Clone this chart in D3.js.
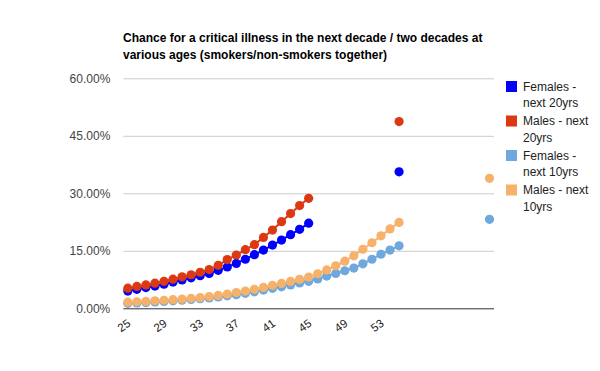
<!DOCTYPE html>
<html>
<head>
<meta charset="utf-8">
<script src="https://cdn.jsdelivr.net/npm/d3@7"></script>
<style>
  html, body { margin: 0; padding: 0; background: #fff; }
  svg { display: block; font-family: "Liberation Sans", Arial, sans-serif; }
</style>
</head>
<body>
<svg id="chart" width="600" height="371"></svg>
<script>
// ---- Data ----
const ages = d3.range(25, 66); // categories 25..65
const tickAges = [25, 29, 33, 37, 41, 45, 49, 53];
const yTicks = [0, 0.15, 0.30, 0.45, 0.60];

const seriesNames = ["Females - next 20yrs", "Males - next 20yrs", "Females - next 10yrs", "Males - next 10yrs"];
const seriesColors = ["#0000ff", "#dc3912", "#6fa8dc", "#f6b26b"];

// values in percent, indexed by age 25..65 (null = no value)
const females20 = [4.5, 4.95, 5.4, 5.8, 6.3, 6.85, 7.4, 7.95, 8.5, 9.1, 9.9, 10.8, 11.7, 12.8, 14.0, 15.2, 16.5, 17.8, 19.2, 20.6, 22.2,
  null, null, null, null, null, null, null, null, null, 35.6,
  null, null, null, null, null, null, null, null, null, null];
const males20 = [5.25, 5.7, 6.1, 6.55, 7.05, 7.6, 8.2, 8.75, 9.4, 10.1, 11.2, 12.7, 13.9, 15.3, 16.6, 18.5, 20.4, 22.6, 24.7, 26.8, 28.7,
  null, null, null, null, null, null, null, null, null, 48.7,
  null, null, null, null, null, null, null, null, null, null];
const females10 = [1.3, 1.4, 1.5, 1.65, 1.8, 1.95, 2.1, 2.3, 2.5, 2.7, 2.95, 3.25, 3.55, 3.9, 4.3, 4.75, 5.2, 5.6, 6.1, 6.6, 7.04,
  7.64, 8.4, 9.1, 9.8, 10.5, 11.6, 12.8, 14.1, 15.2, 16.3,
  null, null, null, null, null, null, null, null, null, 23.2];
const males10 = [1.6, 1.7, 1.8, 1.95, 2.1, 2.25, 2.4, 2.6, 2.8, 3.05, 3.35, 3.7, 4.1, 4.5, 4.95, 5.45, 6.0, 6.5, 7.0, 7.55, 8.15,
  9.0, 10.0, 11.1, 12.3, 13.7, 15.4, 17.1, 18.9, 20.7, 22.4,
  null, null, null, null, null, null, null, null, null, 33.9];

const titleLines = ["Chance for a critical illness in the next decade / two decades at",
                    "various ages (smokers/non-smokers together)"];

// ---- Chart ----
const svg = d3.select("#chart");
const plot = { left: 123.3, right: 494, top: 78.3, bottom: 308.3 };

const x = d3.scaleBand().domain(ages).range([plot.left, plot.right]).padding(0);
const cx = a => x(a) + x.bandwidth() / 2;
const y = d3.scaleLinear().domain([0, 0.60]).range([plot.bottom, plot.top]);

// Title
const title = svg.append("text")
  .attr("x", 123)
  .attr("y", 41.5)
  .attr("font-size", 12)
  .attr("font-weight", "bold")
  .attr("fill", "#000");
titleLines.forEach((t, i) => {
  title.append("tspan").attr("x", 123).attr("dy", i === 0 ? 0 : 17.5).text(t);
});

// Gridlines + y labels
const yAxis = d3.axisLeft(y).tickValues(yTicks).tickSize(-(plot.right - plot.left))
  .tickFormat(d => d3.format(".2f")(d * 100) + "%").tickPadding(13);
const gy = svg.append("g").attr("transform", `translate(${plot.left},0)`).call(yAxis);
gy.select(".domain").remove();
gy.selectAll(".tick line").attr("stroke", "#cccccc").attr("stroke-width", 1);
gy.selectAll(".tick text").attr("fill", "#444").attr("font-size", 12)
  .attr("font-family", "'Liberation Sans', Arial, sans-serif");
gy.selectAll(".tick").filter(d => d === 0).select("line").attr("stroke", "#333");

// X axis labels
const xAxis = d3.axisBottom(x).tickValues(tickAges).tickSize(0).tickPadding(0);
const gx = svg.append("g").attr("transform", `translate(0,${plot.bottom})`).call(xAxis);
gx.select(".domain").remove();
gx.selectAll(".tick text")
  .attr("fill", "#222")
  .attr("font-size", 11.5)
  .attr("font-family", "'Liberation Sans', Arial, sans-serif")
  .attr("text-anchor", "end")
  .attr("y", 0)
  .attr("dy", "0.72em")
  .attr("transform", "translate(-1,10) rotate(-35)");

// Series
const allSeries = [females20, males20, females10, males10];
const line = d3.line()
  .defined(d => d.v !== null)
  .x(d => cx(d.a))
  .y(d => y(d.v / 100));

allSeries.forEach((vals, i) => {
  const pts = ages.map((a, j) => ({ a, v: vals[j] }));
  const g = svg.append("g");
  g.append("path").datum(pts)
    .attr("d", line)
    .attr("fill", "none")
    .attr("stroke", seriesColors[i])
    .attr("stroke-width", 2);
  g.selectAll("circle").data(pts.filter(d => d.v !== null)).join("circle")
    .attr("cx", d => cx(d.a))
    .attr("cy", d => y(d.v / 100))
    .attr("r", 4.6)
    .attr("fill", seriesColors[i]);
});

// Legend
const legend = svg.append("g");
const legendTops = [81, 115.5, 150, 184.5];
const legendLines = [["Females -", "next 20yrs"], ["Males - next", "20yrs"], ["Females -", "next 10yrs"], ["Males - next", "10yrs"]];
seriesNames.forEach((n, i) => {
  const g = legend.append("g");
  g.append("rect").attr("x", 506).attr("y", legendTops[i]).attr("width", 11).attr("height", 11)
    .attr("fill", seriesColors[i]);
  const t = g.append("text").attr("x", 523).attr("y", legendTops[i] + 9.5)
    .attr("font-size", 12).attr("fill", "#222");
  legendLines[i].forEach((l, k) => {
    t.append("tspan").attr("x", 523).attr("dy", k === 0 ? 0 : 16.5).text(l);
  });
});
</script>
</body>
</html>
